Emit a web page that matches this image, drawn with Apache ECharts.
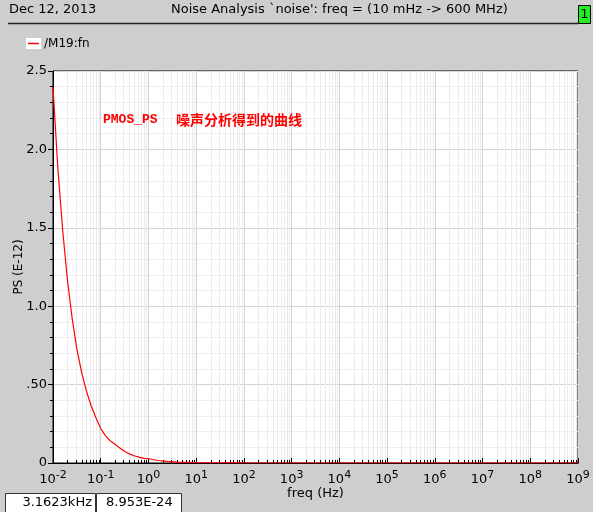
<!DOCTYPE html>
<html><head><meta charset="utf-8">
<script src="https://cdn.jsdelivr.net/npm/echarts@6/dist/echarts.min.js"></script>
<style>html,body{margin:0;padding:0;background:#cecece;}#c{width:593px;height:512px;}</style>
</head><body><div id="c"></div>
<script>
// ---- data ----
const seriesName = '/M19:fn';
const freqHz = [0.01, 0.0125, 0.016, 0.02, 0.025, 0.0315, 0.04, 0.05, 0.063, 0.08, 0.1, 0.125, 0.16, 0.2, 0.25, 0.315, 0.4, 0.5, 0.63, 0.8, 1, 1.6, 2.5, 4, 10, 100, 1000, 1e4, 1e5, 1e6, 1e7, 1e8, 1e9];
const psE12 = [2.40, 1.90, 1.48, 1.17, 0.93, 0.73, 0.575, 0.46, 0.365, 0.285, 0.22, 0.175, 0.14, 0.12, 0.095, 0.075, 0.058, 0.046, 0.037, 0.03, 0.027, 0.016, 0.01, 0.006, 0.0024, 0.0003, 0.00003, 0.000003, 0, 0, 0, 0, 0];
const yTickLabels = {'0':'0','0.5':'.50','1':'1.0','1.5':'1.5','2':'2.0','2.5':'2.5'};
const headerDate = 'Dec 12, 2013';
const headerTitle = "Noise Analysis `noise': freq = (10 mHz -> 600 MHz)";
const annotation1 = 'PMOS_PS';
const annotation2 = '噪声分析得到的曲线';
const statusX = '3.1623kHz';
const statusY = '8.953E-24';

// minor decade positions (2..9 x 10^d) for grid/ticks
const minorFreqs = [];
for (let d = -2; d <= 8; d++) for (let k = 2; k <= 9; k++) minorFreqs.push(k * Math.pow(10, d));

const F = 'DejaVu Sans';
const chart = echarts.init(document.getElementById('c'), null, {renderer:'canvas'});
chart.setOption({
  backgroundColor: '#cecece',
  animation: false,
  grid: {left: 53, top: 71, right: 15, bottom: 49, containLabel: false, outerBoundsMode: 'none',
         show: true, backgroundColor: '#ffffff', borderColor: '#000', borderWidth: 1},
  xAxis: {
    type: 'log', logBase: 10, min: 0.01, max: 1e9, interval: 1,
    name: 'freq (Hz)', nameLocation: 'middle', nameGap: 24, nameMoveOverlap: false,
    nameTextStyle: {fontFamily: F, fontSize: 13, color: '#000'},
    axisLine: {lineStyle: {color: '#000', width: 1}},
    axisTick: {inside: true, length: 5, lineStyle: {color: '#000'}},
    splitLine: {show: true, lineStyle: {color: '#d4d4d4', width: 1}},
    axisLabel: {
      margin: 1,
      formatter: v => '{b|10}{s|' + Math.round(Math.log10(v)) + '}',
      rich: {
        b: {fontFamily: F, fontSize: 13, color: '#000', lineHeight: 22, verticalAlign: 'bottom'},
        s: {fontFamily: F, fontSize: 11, color: '#000', lineHeight: 22, verticalAlign: 'top', padding: [6, 0, 0, 0]}
      }
    }
  },
  yAxis: {
    type: 'value', min: 0, max: 2.5, interval: 0.5,
    name: 'PS (E-12)', nameLocation: 'middle', nameGap: 28, nameMoveOverlap: false,
    nameTextStyle: {fontFamily: F, fontSize: 12, color: '#000'},
    axisLine: {show: true, lineStyle: {color: '#000'}},
    axisTick: {show: true, inside: false, length: 5, lineStyle: {color: '#000'}},
    minorTick: {show: true, splitNumber: 5, length: 3, lineStyle: {color: '#000'}},
    splitLine: {show: true, lineStyle: {color: '#d4d4d4'}},
    minorSplitLine: {show: true, lineStyle: {color: '#ededed'}},
    axisLabel: {fontFamily: F, fontSize: 13, color: '#000', margin: 6,
      formatter: v => yTickLabels[String(v)] !== undefined ? yTickLabels[String(v)] : String(v)}
  },
  series: [
    {
      type: 'custom', z: 1, silent: true,
      data: minorFreqs.map(f => [f]),
      encode: {x: 0},
      renderItem: (params, api) => {
        const f = api.value(0);
        const pb = api.coord([f, 0]);
        const pt = api.coord([f, 2.5]);
        const x = Math.round(pb[0]) + 0.5;
        return {type: 'group', children: [
          {type: 'line', shape: {x1: x, y1: pt[1], x2: x, y2: pb[1]}, style: {stroke: '#ebebeb', lineWidth: 1}},
          {type: 'line', z2: 10, shape: {x1: x, y1: pb[1], x2: x, y2: pb[1] - 3}, style: {stroke: '#000', lineWidth: 1}}
        ]};
      }
    },
    {
      name: seriesName, type: 'line', z: 3, symbol: 'none', smooth: false,
      data: freqHz.map((f, i) => [f, psE12[i]]),
      lineStyle: {color: '#ff0000', width: 1.2}, itemStyle: {color: '#ff0000'}
    }
  ],
  graphic: [
    {type: 'text', left: 9, top: 3, style: {text: headerDate, font: '13px "DejaVu Sans"', fill: '#000'}},
    {type: 'text', left: 171, top: 3, style: {text: headerTitle, font: '13px "DejaVu Sans"', fill: '#000'}},
    {type: 'line', shape: {x1: 8, y1: 23.5, x2: 578, y2: 23.5}, style: {stroke: '#222', lineWidth: 1.5}},
    {type: 'rect', shape: {x: 578.5, y: 5.5, width: 12, height: 18}, style: {fill: '#22ee22', stroke: '#000', lineWidth: 1}},
    {type: 'text', x: 584.5, y: 15, style: {text: '1', font: '13px "DejaVu Sans"', fill: '#000', align: 'center', verticalAlign: 'middle'}},
    {type: 'rect', z: 10, shape: {x: 26, y: 38, width: 15, height: 11}, style: {fill: '#fff'}},
    {type: 'line', z: 11, shape: {x1: 28, y1: 43.5, x2: 39, y2: 43.5}, style: {stroke: '#ff0000', lineWidth: 1.5}},
    {type: 'text', x: 44, y: 43.5, style: {text: seriesName, font: '12px "DejaVu Sans"', fill: '#000', verticalAlign: 'middle'}},
    {type: 'text', x: 103, y: 120, z: 100, style: {text: annotation1, font: 'bold 13px "Liberation Mono"', fill: '#ff0000', verticalAlign: 'middle'}},
    {type: 'text', x: 176, y: 120, z: 100, style: {text: annotation2, font: 'bold 14px "Noto Sans CJK SC"', fill: '#ff0000', verticalAlign: 'middle'}},
    {type: 'rect', shape: {x: 5.5, y: 493.5, width: 90, height: 20}, style: {fill: '#fff', stroke: '#333', lineWidth: 1}},
    {type: 'text', x: 92, y: 503, style: {text: statusX, font: '13px "DejaVu Sans"', fill: '#000', align: 'right', verticalAlign: 'middle'}},
    {type: 'rect', shape: {x: 96.5, y: 493.5, width: 85, height: 20}, style: {fill: '#fff', stroke: '#333', lineWidth: 1}},
    {type: 'text', x: 106, y: 503, style: {text: statusY, font: '13px "DejaVu Sans"', fill: '#000', verticalAlign: 'middle'}}
  ]
});
</script></body></html>
